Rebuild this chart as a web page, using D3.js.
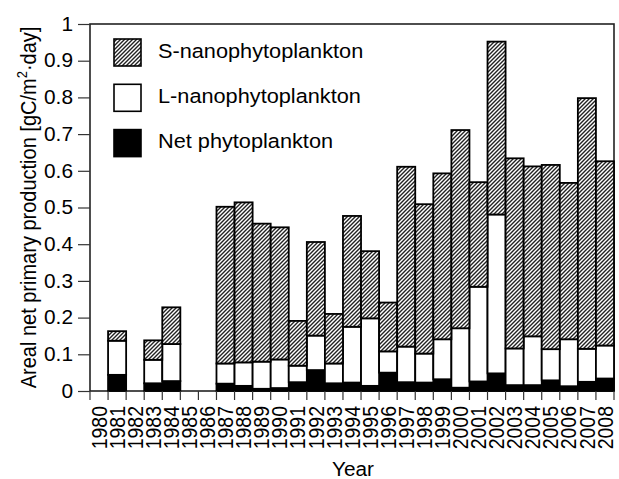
<!DOCTYPE html>
<html>
<head>
<meta charset="utf-8">
<script src="https://cdn.jsdelivr.net/npm/d3@7"></script>
<style>
  body { margin: 0; background: #fff; }
  svg { display: block; }
  text { font-family: "Liberation Sans", Arial, Helvetica, sans-serif; fill: #000; }
</style>
</head>
<body>
<svg id="chart" width="619" height="479"></svg>
<script>
// Areal net primary production by size fraction, 1980–2008 [gC/m²·day]
const years = ["1980","1981","1982","1983","1984","1985","1986","1987","1988","1989",
               "1990","1991","1992","1993","1994","1995","1996","1997","1998","1999",
               "2000","2001","2002","2003","2004","2005","2006","2007","2008"];
// null = no observation that year
const netPhyto = [null,0.044,null,0.021,0.027,null,null,0.020,0.014,0.006,
                  0.008,0.024,0.057,0.021,0.023,0.014,0.050,0.024,0.023,0.032,
                  0.009,0.026,0.048,0.016,0.016,0.029,0.013,0.025,0.034];
const lNano    = [null,0.093,null,0.064,0.101,null,null,0.055,0.064,0.074,
                  0.078,0.045,0.094,0.054,0.152,0.184,0.058,0.097,0.079,0.109,
                  0.162,0.258,0.433,0.100,0.133,0.085,0.128,0.090,0.090];
const sNano    = [null,0.026,null,0.053,0.100,null,null,0.427,0.436,0.376,
                  0.360,0.122,0.255,0.135,0.302,0.183,0.133,0.490,0.407,0.452,
                  0.540,0.285,0.471,0.518,0.463,0.502,0.426,0.683,0.502];
const yTicks = [0,0.1,0.2,0.3,0.4,0.5,0.6,0.7,0.8,0.9,1];
const seriesKeys = ["net","lnano","snano"];
const legendLabels = ["S-nanophytoplankton","L-nanophytoplankton","Net phytoplankton"];

const svg = d3.select("#chart");
const plotLeft = 90, plotRight = 614, plotTop = 24, plotBottom = 391;
const stretch = 1.07; // lettering is slightly wide

const x = d3.scaleBand().domain(years).range([plotLeft, plotRight]).padding(0);
const y = d3.scaleLinear().domain([0, 1]).range([plotBottom, plotTop]);

// hatch for the S-nanophytoplankton fraction
const defs = svg.append("defs");
const pat = defs.append("pattern")
  .attr("id", "hatch").attr("patternUnits", "userSpaceOnUse")
  .attr("width", 4).attr("height", 4);
pat.append("rect").attr("width", 4).attr("height", 4).attr("fill", "#fff");
pat.append("path")
  .attr("d", "M-1,1 l2,-2 M0,4 l4,-4 M3,5 l2,-2")
  .attr("stroke", "#222").attr("stroke-width", 1.4);

const fills = { net: "#000", lnano: "#fff", snano: "url(#hatch)" };

const rows = years.map((yr, i) => ({
  year: yr, net: netPhyto[i], lnano: lNano[i], snano: sNano[i]
})).filter(d => d.net !== null);

const stacked = d3.stack().keys(seriesKeys)(rows);

// frame
svg.append("rect")
  .attr("x", plotLeft).attr("y", plotTop)
  .attr("width", plotRight - plotLeft).attr("height", plotBottom - plotTop)
  .attr("fill", "none").attr("stroke", "#222").attr("stroke-width", 1.6);

// stacked bars
svg.append("g").selectAll("g").data(stacked).join("g")
  .attr("fill", s => fills[s.key])
  .selectAll("rect").data(s => s).join("rect")
  .attr("x", d => x(d.data.year))
  .attr("width", x.bandwidth())
  .attr("y", d => y(d[1]))
  .attr("height", d => y(d[0]) - y(d[1]))
  .attr("stroke", "#000").attr("stroke-width", 1.8);

// y axis
const yAxis = svg.append("g")
  .attr("transform", `translate(${plotLeft},0)`)
  .call(d3.axisLeft(y).tickValues(yTicks).tickSize(12).tickPadding(5)
    .tickFormat(d => (d === 0 || d === 1) ? String(d) : d3.format(".1f")(d)));
yAxis.select(".domain").remove();
yAxis.selectAll(".tick line").attr("stroke", "#333").attr("stroke-width", 1.2);
yAxis.selectAll(".tick text")
  .attr("x", 0)
  .attr("transform", `translate(-17,0) scale(${stretch},1)`)
  .attr("font-size", 19.5)
  .attr("font-family", "'Liberation Sans', Arial, sans-serif").attr("fill", "#000");

// x axis: ticks on band boundaries, rotated year labels
const xg = svg.append("g");
const bounds = years.map(d => x(d)).concat([plotRight]);
xg.selectAll("line").data(bounds).join("line")
  .attr("x1", d => d).attr("x2", d => d)
  .attr("y1", plotBottom).attr("y2", plotBottom + 9)
  .attr("stroke", "#333").attr("stroke-width", 1.2);
xg.selectAll("text").data(years).join("text")
  .attr("transform", d => `translate(${x(d) + x.bandwidth() / 2},406) scale(${stretch + 0.02},1) rotate(-90)`)
  .attr("text-anchor", "end")
  .attr("dy", "0.36em")
  .attr("font-size", 19.5)
  .text(d => d);

// axis titles
svg.append("text")
  .attr("transform", `translate(${(plotLeft + plotRight) / 2 + 1},476) scale(1.04,1)`)
  .attr("text-anchor", "middle").attr("font-size", 20)
  .text("Year");

const yt = svg.append("text")
  .attr("transform", `translate(36,${(plotTop + plotBottom) / 2}) scale(${stretch},1) rotate(-90)`)
  .attr("text-anchor", "middle").attr("font-size", 20);
yt.append("tspan").text("Areal net primary production [gC/m");
yt.append("tspan").attr("font-size", 13).attr("dy", -8).text("2");
yt.append("tspan").attr("dy", 8).text("·day]");

// legend
const lg = svg.append("g");
const legendFills = [fills.snano, fills.lnano, fills.net];
legendLabels.forEach((lab, i) => {
  const yy = 39 + i * 45.3;
  lg.append("rect")
    .attr("x", 114).attr("y", yy).attr("width", 27).attr("height", 27)
    .attr("fill", legendFills[i]).attr("stroke", "#000").attr("stroke-width", 1.6);
  lg.append("text")
    .attr("transform", `translate(158,${yy + 18.5}) scale(1.06,1)`)
    .attr("font-size", 20.5)
    .text(lab);
});
</script>
</body>
</html>
